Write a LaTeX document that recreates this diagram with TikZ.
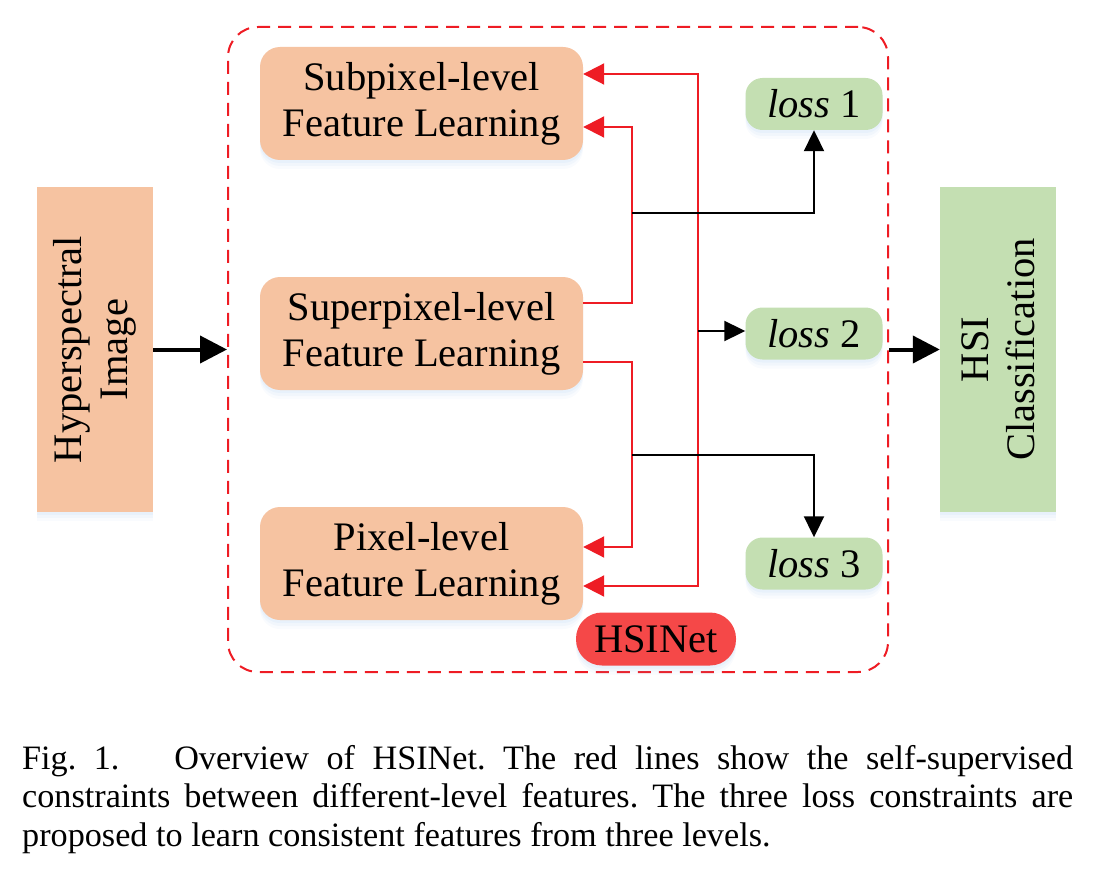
\documentclass[tikz,border=0pt]{standalone}
\usepackage{fontspec}
\setmainfont{Liberation Serif}
\usetikzlibrary{arrows.meta,shadows}
\definecolor{peach}{RGB}{246,195,161}
\definecolor{lgreen}{RGB}{196,223,178}
\definecolor{hred}{RGB}{245,72,72}
\definecolor{lred}{RGB}{238,28,36}
\definecolor{shadowblue}{RGB}{150,190,235}
\begin{document}
\begin{tikzpicture}[x=1pt,y=-1pt,
  boxfont/.style={font=\fontsize{40.5}{46}\selectfont},
  softshadow/.style={
    general shadow={shadow xshift=0pt,shadow yshift=-3pt,fill=shadowblue,opacity=0.10},
    general shadow={shadow xshift=0pt,shadow yshift=-6pt,fill=shadowblue,opacity=0.08},
    general shadow={shadow xshift=0pt,shadow yshift=-9pt,fill=shadowblue,opacity=0.06}},
  featbox/.style={rectangle,rounded corners=20pt,fill=peach,minimum width=323pt,minimum height=113pt,align=center,boxfont,inner sep=0pt,softshadow},
  lossbox/.style={rectangle,rounded corners=17pt,fill=lgreen,minimum width=137pt,minimum height=52pt,boxfont,inner sep=0pt,softshadow},
  tallbox/.style={rectangle,minimum width=116pt,minimum height=325pt,inner sep=0pt,softshadow},
  frame/.style={draw=lred,line width=2pt,dash pattern=on 13pt off 8pt,rounded corners=30pt,minimum width=660pt,minimum height=645pt,inner sep=0pt},
  redarrow/.style={draw=lred,line width=2pt,-{Triangle[length=21pt,width=21pt]}},
  redboth/.style={draw=lred,line width=2pt,{Triangle[length=21pt,width=21pt]}-{Triangle[length=21pt,width=21pt]}},
  blkarrow/.style={draw=black,line width=2pt,-{Triangle[length=21pt,width=20pt]}},
  bigarrow/.style={draw=black,line width=4pt,-{Triangle[length=27pt,width=27pt]}}
]
\useasboundingbox (0,0) rectangle (1120,880);

% outer frame
\node[frame] (net) at (558,349.5) {};

% input / output boxes
\node[tallbox,fill=peach] (hsi) at (95,349.5) {};
\node[rotate=90,align=center,boxfont] (hsitext) at (hsi.center) {Hyperspectral\\Image};
\node[tallbox,fill=lgreen] (cls) at (998,349.5) {};
\node[rotate=90,align=center,boxfont] (clstext) at (cls.center) {HSI\\Classification};

% feature boxes
\node[featbox] (sub) at (421.5,103.5) {Subpixel-level\\Feature Learning};
\node[featbox] (sup) at (421.5,333.5) {Superpixel-level\\Feature Learning};
\node[featbox] (pix) at (421.5,563.5) {Pixel-level\\Feature Learning};

% loss boxes
\node[lossbox] (l1) at (814,104) {\textit{loss} 1};
\node[lossbox] (l2) at (814,333.5) {\textit{loss} 2};
\node[lossbox] (l3) at (814,563.5) {\textit{loss} 3};

% label
\node[rectangle,rounded corners=26pt,fill=hred,minimum width=160pt,minimum height=53pt,boxfont,inner sep=0pt,softshadow] (lab) at (656,639) {HSINet};

% junctions
\coordinate (j1) at (632,213);
\coordinate (j3) at (632,455);
\coordinate (j2) at (698,331);

% red constraint lines
\draw[redarrow] (sup.east |- 0,303) -| (632,127) -- (sub.east |- 0,127);
\draw[redarrow] (sup.east |- 0,362) -| (632,547) -- (pix.east |- 0,547);
\draw[redboth] (sub.east |- 0,74) -| (698,586) -- (pix.east |- 0,586);

% black loss arrows
\draw[blkarrow] (j1) -| (l1.south);
\draw[blkarrow] (j3) -| (l3.north);
\draw[blkarrow] (j2) -- (l2.west |- j2);

% main flow
\draw[bigarrow] (hsi.east) -- (net.west);
\draw[bigarrow] (net.east) -- (cls.west);

% caption
\node[anchor=north west,inner sep=0pt,text width=1051pt,align=justify,
      font=\fontsize{34.2}{38.5}\selectfont] (cap) at (22,745)
{\frenchspacing Fig. 1.\hspace{1.6em}Overview of HSINet. The red lines show the self-supervised\linebreak
constraints between different-level features. The three loss constraints are\linebreak
proposed to learn consistent features from three levels.};
\end{tikzpicture}
\end{document}
